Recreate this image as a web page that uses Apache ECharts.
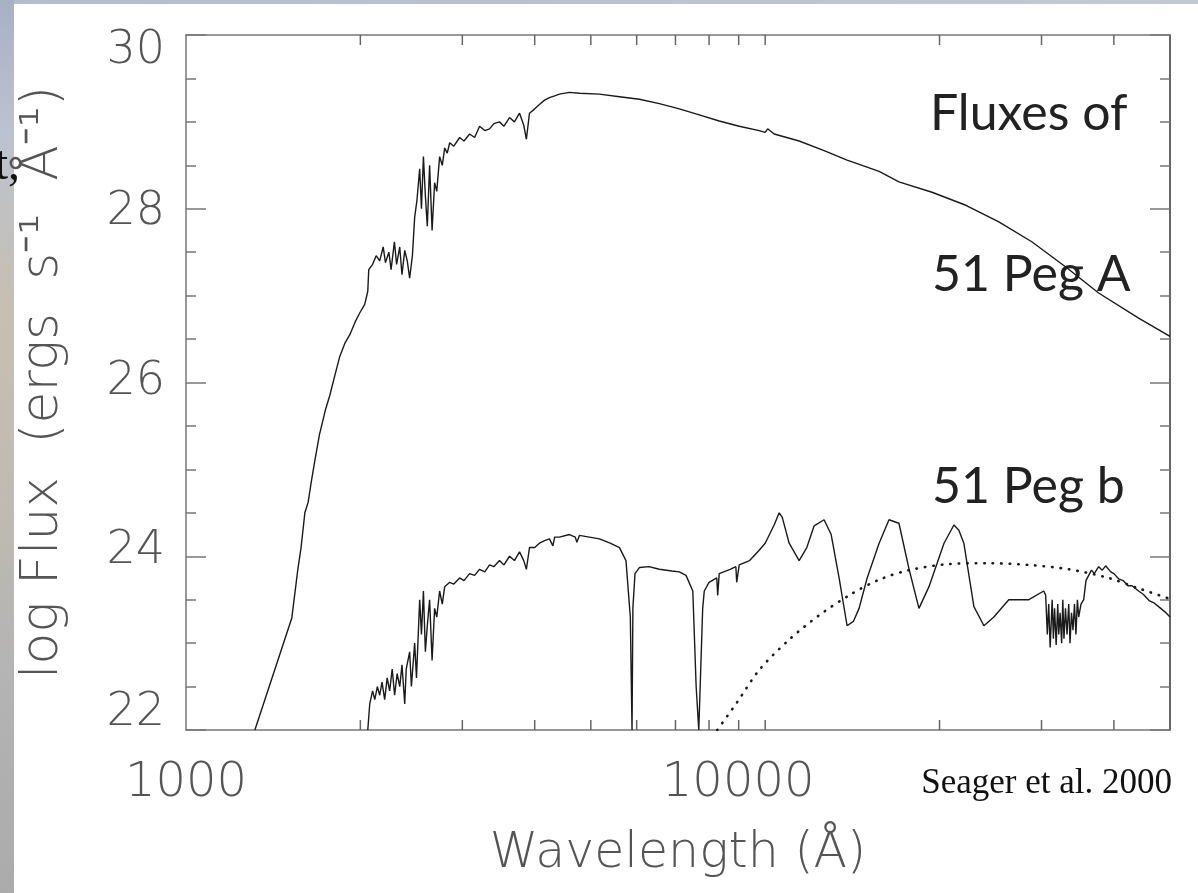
<!DOCTYPE html>
<html><head><meta charset="utf-8">
<script src="https://cdn.jsdelivr.net/npm/echarts@6/dist/echarts.min.js"></script>
<style>html,body{margin:0;padding:0;background:#fff}#c{width:1198px;height:893px}</style>
</head><body><div id="c"></div>
<script>
// ---- data ----
const starWave = [1315,1523,1560,1580,1604,1625,1645,1669,1700,1740,1771,1810,1843,1880,1918,1960,1995,2035,2060,2068,2100,2130,2160,2190,2210,2240,2260,2290,2310,2339,2360,2386,2410,2433,2460,2482,2505,2532,2550,2570,2590,2610,2634,2660,2687,2710,2741,2770,2797,2825,2853,2900,2968,3020,3088,3150,3213,3280,3343,3400,3478,3540,3619,3690,3766,3830,3870,3918,4000,4076,4160,4242,4330,4413,4592,4778,5173,5603,6065,6565,7108,7696,8330,9020,9765,10000,10100,10364,11445,12640,13850,15730,17020,19410,22210,25320,28860,33040,37650,44130,50000];
const starFlux = [22.0,23.29,23.85,24.1,24.5,24.62,24.85,25.1,25.4,25.68,25.85,26.1,26.3,26.45,26.55,26.7,26.8,26.9,27.05,27.3,27.36,27.46,27.4,27.56,27.38,27.5,27.3,27.62,27.36,27.56,27.24,27.52,27.4,27.2,27.46,27.9,28.1,28.46,28.0,28.6,28.15,27.8,28.5,27.75,28.3,28.2,28.6,28.5,28.7,28.64,28.76,28.72,28.82,28.78,28.86,28.82,28.95,28.9,28.92,28.98,29.0,28.95,29.05,29.0,29.1,28.96,28.8,29.1,29.15,29.2,29.25,29.28,29.3,29.32,29.34,29.33,29.32,29.29,29.26,29.21,29.15,29.08,29.01,28.95,28.9,28.88,28.92,28.86,28.78,28.67,28.56,28.43,28.31,28.19,28.04,27.85,27.62,27.33,27.03,26.74,26.53];

const planetWave = [2060,2076,2100,2118,2140,2160,2180,2203,2225,2247,2270,2292,2315,2339,2360,2386,2400,2433,2450,2482,2500,2532,2550,2570,2590,2610,2634,2660,2687,2710,2741,2770,2797,2853,2900,2968,3020,3088,3150,3213,3280,3343,3400,3478,3540,3619,3690,3766,3830,3870,3918,4000,4076,4160,4242,4300,4330,4413,4592,4700,4730,4778,5173,5400,5603,5750,5850,5890,5910,5960,6065,6300,6565,6900,7108,7300,7500,7600,7680,7720,7800,7850,8000,8250,8280,8330,8700,8900,8930,9020,9400,9765,10000,10364,10571,10700,11000,11445,11800,12150,12640,13000,13416,13850,14200,14525,15000,15730,16360,17020,17720,18430,19180,20360,21180,21600,22030,22930,23860,24820,26340,28530,30270,30500,30700,30870,31050,31300,31450,31600,31800,32000,32130,32300,32500,32650,32800,33000,33200,33430,33600,33800,34000,34200,34400,34600,34780,35100,35480,35800,36190,36600,37000,37650,38200,38710,39500,40000,40760,41500,42300,43000,44130,45000,46000,47000,47780,49000,50000];
const planetFlux = [22.0,22.3,22.45,22.35,22.5,22.4,22.55,22.35,22.6,22.45,22.7,22.4,22.65,22.5,22.75,22.3,22.7,22.9,22.5,23.0,22.6,23.5,23.1,23.6,22.9,23.2,23.5,22.8,23.4,23.3,23.6,23.45,23.65,23.7,23.68,23.75,23.72,23.8,23.78,23.85,23.82,23.9,23.88,23.95,23.9,24.0,23.95,24.05,23.95,23.85,24.1,24.1,24.15,24.18,24.2,24.12,24.22,24.22,24.25,24.22,24.16,24.24,24.2,24.15,24.1,23.95,23.3,22.0,23.4,23.8,23.87,23.88,23.85,23.83,23.82,23.78,23.6,22.5,22.0,22.0,23.4,23.6,23.7,23.75,23.55,23.8,23.85,23.88,23.7,23.9,23.95,24.07,24.15,24.36,24.5,24.45,24.15,23.95,24.1,24.35,24.42,24.25,23.75,23.2,23.25,23.4,23.75,24.15,24.42,24.38,23.85,23.4,23.65,24.15,24.36,24.3,24.15,23.42,23.2,23.3,23.5,23.5,23.6,23.55,23.1,23.45,22.95,23.5,23.05,23.4,22.98,23.45,23.1,23.35,23.0,23.5,23.05,23.4,23.1,23.45,23.0,23.35,23.15,23.45,23.1,23.5,23.3,23.45,23.5,23.72,23.78,23.84,23.8,23.88,23.84,23.89,23.82,23.8,23.74,23.72,23.66,23.66,23.6,23.56,23.49,23.46,23.42,23.36,23.3];

const thermalWave = [8265,8946,9765,11000,12390,13960,15730,17720,20760,24330,28530,33430,39180,44130,50000];
const thermalFlux = [22.0,22.32,22.69,23.04,23.32,23.55,23.73,23.84,23.91,23.92,23.9,23.85,23.75,23.63,23.51];

const xTickWave = [2000,3000,4000,5000,6000,7000,8000,9000,10000,20000,30000,40000];
const xTickLabels = [1000, 10000];
const yTickLabels = [22, 24, 26, 28, 30];

// ---- chart ----
const pair = (w, f) => w.map((v, i) => [v, f[i]]);
const axisFont = "'DejaVu Sans', sans-serif";
const yShift = {30: 16, 28: 3, 26: 0, 24: -5, 22: -17};
const shiftPad = d => d >= 0 ? [2 * d, 0, 0, 0] : [0, 0, -2 * d, 0];
const yRich = {};
yTickLabels.forEach(v => {
  yRich['y' + v] = {fontSize: 46, fontFamily: axisFont, fontWeight: 200, color: '#555', padding: shiftPad(yShift[v])};
});
const xRich = {
  a: {fontSize: 48, fontFamily: axisFont, fontWeight: 200, color: '#555'},
  b: {fontSize: 48, fontFamily: axisFont, fontWeight: 200, color: '#555', padding: [0, 54, 0, 0]}
};

const chart = echarts.init(document.getElementById('c'));
const yBase = {
  type: 'value', min: 22, max: 30, interval: 2,
  splitLine: {show: false},
  axisTick: {show: true, inside: true, length: 20, lineStyle: {color: '#777', width: 1.5}},
  minorTick: {show: true, splitNumber: 4, length: 10, lineStyle: {color: '#777', width: 1.5}}
};

chart.setOption({
  animation: false,
  backgroundColor: '#fff',
  grid: {left: 186, top: 35, right: 28, bottom: 163, containLabel: false},
  xAxis: [
    {
      type: 'log', logBase: 10, min: 1000, max: 50000, position: 'bottom',
      axisLine: {show: true, lineStyle: {color: '#777', width: 1.5}},
      axisTick: {show: false},
      splitLine: {show: false},
      axisLabel: {
        margin: 30, showMinLabel: true, showMaxLabel: false,
        formatter: v => {
          const r = Math.round(v);
          if (r === xTickLabels[0]) return '{a|' + r + '}';
          if (r === xTickLabels[1]) return '{b|' + r + '}';
          return '';
        },
        rich: xRich
      },
      name: 'Wavelength (Å)', nameLocation: 'middle', nameGap: 100,
      nameTextStyle: {fontSize: 49, fontFamily: axisFont, fontWeight: 200, color: '#555'}
    },
    {
      type: 'log', logBase: 10, min: 1000, max: 50000, position: 'top',
      axisLine: {show: true, lineStyle: {color: '#777', width: 1.5}},
      axisTick: {show: false}, axisLabel: {show: false}, splitLine: {show: false}
    }
  ],
  yAxis: [
    Object.assign({}, yBase, {
      position: 'left',
      axisLine: {show: true, lineStyle: {color: '#777', width: 1.5}},
      axisLabel: {
        margin: 21,
        formatter: v => yTickLabels.includes(Math.round(v)) ? '{y' + Math.round(v) + '|' + Math.round(v) + '}' : '',
        rich: yRich
      },
      name: 'log Flux  (ergs  s⁻¹  Å⁻¹)', nameLocation: 'middle', nameRotate: 90, nameGap: 117,
      nameTextStyle: {fontSize: 52, fontFamily: axisFont, fontWeight: 200, color: '#555'}
    }),
    Object.assign({}, yBase, {
      position: 'right',
      axisLine: {show: true, lineStyle: {color: '#333', width: 1.5}},
      axisLabel: {show: false}
    })
  ],
  series: [
    {
      name: '51 Peg A', type: 'line', data: pair(starWave, starFlux),
      showSymbol: false, symbol: 'none', clip: true,
      lineStyle: {color: '#1a1a1a', width: 1.4}
    },
    {
      name: '51 Peg b', type: 'line', data: pair(planetWave, planetFlux),
      showSymbol: false, symbol: 'none', clip: true,
      lineStyle: {color: '#1a1a1a', width: 1.4}
    },
    {
      name: '51 Peg b thermal', type: 'line', data: pair(thermalWave, thermalFlux),
      showSymbol: false, symbol: 'none', clip: true, smooth: 0.3,
      lineStyle: {color: '#1a1a1a', width: 2.6, type: [0.5, 8], cap: 'round'}
    },
    {
      name: 'xticks', type: 'custom', coordinateSystem: 'cartesian2d', silent: true,
      data: xTickWave.map(w => [w]),
      renderItem: (params, api) => {
        const w = api.value(0);
        const b = api.coord([w, 22]);
        const t = api.coord([w, 30]);
        const st = {stroke: '#666', lineWidth: 1.5};
        return {type: 'group', children: [
          {type: 'line', shape: {x1: b[0], y1: b[1], x2: b[0], y2: b[1] - 10}, style: st},
          {type: 'line', shape: {x1: t[0], y1: t[1], x2: t[0], y2: t[1] + 10}, style: st}
        ]};
      },
      z: 5
    }
  ],
  graphic: [
    {type: 'rect', left: 0, top: 0, z: -1, shape: {width: 1198, height: 4},
     style: {fill: new echarts.graphic.LinearGradient(0, 0, 1, 0, [{offset: 0, color: '#b4bccb'}, {offset: 1, color: '#c3c8d3'}])}},
    {type: 'rect', left: 0, top: 0, z: -1, shape: {width: 14, height: 893},
     style: {fill: new echarts.graphic.LinearGradient(0, 0, 0, 1, [
       {offset: 0, color: '#a8b1c4'}, {offset: 0.15, color: '#bcc2cf'}, {offset: 0.35, color: '#c7bfb1'},
       {offset: 0.55, color: '#c0bbb2'}, {offset: 0.75, color: '#b4b4b4'}, {offset: 1, color: '#ababab'}])}},
    {type: 'text', x: 20, y: 166, z: 10,
     style: {text: 't,', font: '48px "Liberation Serif", serif', fill: '#111', align: 'right', verticalAlign: 'middle'}},
    {type: 'text', x: 930, y: 114, style: {text: 'Fluxes of', font: '50px Lato, sans-serif', fill: '#222', verticalAlign: 'middle'}},
    {type: 'text', x: 932, y: 275, style: {text: '51 Peg A', font: '50px Lato, sans-serif', fill: '#222', verticalAlign: 'middle'}},
    {type: 'text', x: 932, y: 487, style: {text: '51 Peg b', font: '50px Lato, sans-serif', fill: '#222', verticalAlign: 'middle'}},
    {type: 'text', x: 1172, y: 784, style: {text: 'Seager et al. 2000', font: '35px "Liberation Serif", serif', fill: '#111', align: 'right', verticalAlign: 'middle'}}
  ]
});
</script>
</body></html>
